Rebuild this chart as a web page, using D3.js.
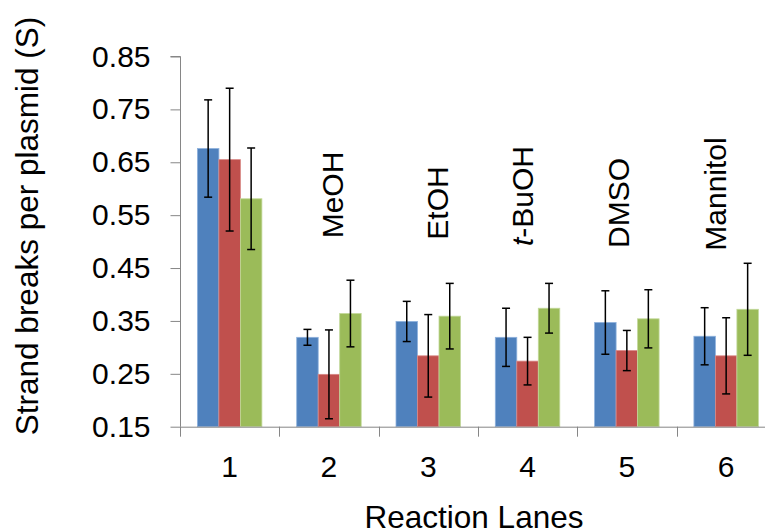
<!DOCTYPE html>
<html>
<head>
<meta charset="utf-8">
<script src="https://cdn.jsdelivr.net/npm/d3@7/dist/d3.min.js"></script>
<style>
  html, body { margin: 0; padding: 0; background: #fff; }
  svg { display: block; font-family: "Liberation Sans", Arial, sans-serif; }
</style>
</head>
<body>
<svg id="chart" width="765" height="531"></svg>
<script>
// Reaction lanes on the x axis
const lanes = ["1", "2", "3", "4", "5", "6"];
// Scavenger added in each lane (lane 1 has none)
const scavengers = ["", "MeOH", "EtOH", "t-BuOH", "DMSO", "Mannitol"];
// Three replicate series: mean strand breaks per plasmid and error
const seriesNames = ["A", "B", "C"];
const blueValues  = [0.676, 0.319, 0.349, 0.319, 0.347, 0.321];
const blueErrors  = [0.092, 0.015, 0.038, 0.055, 0.060, 0.054];
const redValues   = [0.655, 0.249, 0.284, 0.274, 0.294, 0.284];
const redErrors   = [0.135, 0.084, 0.078, 0.045, 0.038, 0.072];
const greenValues = [0.581, 0.364, 0.359, 0.374, 0.354, 0.372];
const greenErrors = [0.096, 0.063, 0.062, 0.047, 0.055, 0.087];
const yTicks = [0.15, 0.25, 0.35, 0.45, 0.55, 0.65, 0.75, 0.85];

const colors = { A: "#4F81BD", B: "#C0504D", C: "#9BBB59" };
const edges  = { A: "#8EB1DC", B: "#D98886", C: "#C2D89A" };
const axisColor = "#868686";
const fontSize = 30;
const titleSize = 31.5;

// Placement tweaks for the rotated scavenger names (dx from lane centre, y centre)
const labelPlacement = [null, {dx: 4, y: 195}, {dx: 9, y: 203}, {dx: -5, y: 196}, {dx: -8.5, y: 203}, {dx: -11, y: 194}];

const series = [
  { key: "A", values: blueValues,  errors: blueErrors },
  { key: "B", values: redValues,   errors: redErrors },
  { key: "C", values: greenValues, errors: greenErrors }
];

const svg = d3.select("#chart");
const plotLeft = 180, bandW = 99.3;
const plotTop = 56.5, plotBottom = 426.7;

const x = d3.scaleBand().domain(lanes).range([plotLeft, plotLeft + bandW * lanes.length]).padding(0);
const xs = d3.scaleBand().domain(seriesNames).range([0, x.bandwidth()]).paddingInner(0).paddingOuter(0.81);
const y = d3.scaleLinear().domain([0.15, 0.85]).range([plotBottom, plotTop]);

// Y axis
const yAxis = d3.axisLeft(y).tickValues(yTicks).tickFormat(d3.format(".2f")).tickSize(10).tickPadding(20);
const gy = svg.append("g").attr("transform", `translate(${plotLeft + 0.5},0)`).call(yAxis);
gy.select(".domain").attr("stroke", axisColor).attr("d", `M-10,${y(0.85)}H0V${plotBottom}`);
gy.selectAll(".tick line").attr("stroke", axisColor);
gy.selectAll(".tick text").attr("font-size", fontSize).attr("fill", "#000")
  .attr("font-family", '"Liberation Sans", Arial, sans-serif');

// Bars
const groups = svg.append("g").selectAll("g.lane").data(lanes).join("g")
  .attr("class", "lane")
  .attr("transform", d => `translate(${x(d)},0)`);

series.forEach(s => {
  groups.append("rect")
    .attr("x", (d, i) => xs(s.key))
    .attr("y", (d, i) => y(s.values[i]))
    .attr("width", xs.bandwidth())
    .attr("height", (d, i) => y(0.15) - y(s.values[i]))
    .attr("fill", colors[s.key])
    .attr("stroke", edges[s.key])
    .attr("stroke-width", 0.8);
});

// X axis line and tick marks at lane boundaries
const xg = svg.append("g");
xg.append("line")
  .attr("x1", plotLeft).attr("x2", 765)
  .attr("y1", plotBottom + 0.5).attr("y2", plotBottom + 0.5)
  .attr("stroke", axisColor);
xg.selectAll("line.tick").data(lanes).join("line")
  .attr("class", "tick")
  .attr("x1", d => Math.round(x(d)) + 0.5).attr("x2", d => Math.round(x(d)) + 0.5)
  .attr("y1", plotBottom).attr("y2", plotBottom + 10)
  .attr("stroke", axisColor);
xg.selectAll("text").data(lanes).join("text")
  .attr("x", d => x(d) + x.bandwidth() / 2)
  .attr("y", 477)
  .attr("text-anchor", "middle")
  .attr("font-size", fontSize)
  .text(d => d);

// Error bars
series.forEach(s => {
  const eb = groups.append("g").attr("stroke", "#000").attr("stroke-width", 1.5);
  const cx = xs(s.key) + xs.bandwidth() / 2;
  eb.append("line")
    .attr("x1", cx).attr("x2", cx)
    .attr("y1", (d, i) => y(s.values[i] + s.errors[i]))
    .attr("y2", (d, i) => y(s.values[i] - s.errors[i]));
  eb.append("line")
    .attr("x1", cx - 4).attr("x2", cx + 4)
    .attr("y1", (d, i) => y(s.values[i] + s.errors[i]))
    .attr("y2", (d, i) => y(s.values[i] + s.errors[i]));
  eb.append("line")
    .attr("x1", cx - 4).attr("x2", cx + 4)
    .attr("y1", (d, i) => y(s.values[i] - s.errors[i]))
    .attr("y2", (d, i) => y(s.values[i] - s.errors[i]));
});

// Scavenger names, rotated above each lane
scavengers.forEach((name, i) => {
  if (!name) return;
  const p = labelPlacement[i];
  const t = svg.append("text")
    .attr("transform", `translate(${x(lanes[i]) + x.bandwidth() / 2 + p.dx},${p.y}) rotate(-90)`)
    .attr("text-anchor", "middle")
    .attr("dy", "0.35em")
    .attr("font-size", fontSize);
  if (name.startsWith("t-")) {
    t.append("tspan").attr("font-style", "italic").text("t");
    t.append("tspan").text(name.slice(1));
  } else {
    t.text(name);
  }
});

// Axis titles
svg.append("text")
  .attr("x", 474).attr("y", 528)
  .attr("text-anchor", "middle")
  .attr("font-size", titleSize)
  .text("Reaction Lanes");

svg.append("text")
  .attr("transform", `translate(38,226) rotate(-90)`)
  .attr("text-anchor", "middle")
  .attr("font-size", titleSize)
  .text("Strand breaks per plasmid (S)");
</script>
</body>
</html>
